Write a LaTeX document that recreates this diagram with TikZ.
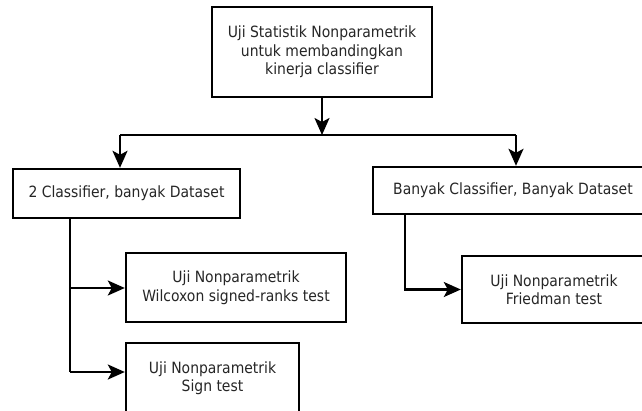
\documentclass[tikz,border=0pt]{standalone}
\usepackage{fontspec}
\setmainfont{DejaVu Sans Condensed}
\usetikzlibrary{arrows.meta}
\begin{document}
\begin{tikzpicture}[x=1pt,y=-1pt,
  box/.style={draw=black,line width=2.4pt,fill=white,inner sep=0pt,align=center,
    font=\fontsize{15.5}{18.5}\selectfont,text=black!85},
  conn/.style={line width=2.2pt,-{Stealth[length=17pt,width=15pt,inset=4pt]}},
  plain/.style={line width=2.2pt}]
\useasboundingbox (0,0) rectangle (642,410);
\clip (0,0) rectangle (642,410);
\fill[white] (0,0) rectangle (642,410);
\node[box,minimum width=220pt,minimum height=90pt] (top) at (322,52)
  {Uji Statistik Nonparametrik\\untuk membandingkan\\kinerja classifier};
\node[box,minimum width=227pt,minimum height=49pt] (left) at (126.5,193.5)
  {2 Classifier, banyak Dataset};
\node[box,minimum width=280pt,minimum height=47pt] (right) at (513,190.5)
  {Banyak Classifier, Banyak Dataset};
\node[box,minimum width=220pt,minimum height=69pt] (wil) at (236,287.5)
  {Uji Nonparametrik\\Wilcoxon signed-ranks test};
\node[box,minimum width=173pt,minimum height=70pt] (sign) at (212.5,378)
  {Uji Nonparametrik\\Sign test};
\node[box,minimum width=184pt,minimum height=67pt] (fried) at (554,289.5)
  {Uji Nonparametrik\\Friedman test};
\coordinate (mid) at (322,135);
\coordinate (hl) at (120,135);
\coordinate (hr) at (516,135);
\coordinate (lw) at (70,288);
\coordinate (ls) at (70,372);
\coordinate (rf) at (405,289.5);
\draw[conn] (top.south) -- (mid);
\draw[plain] (hl) -- (hr);
\draw[conn] (hl) -- (hl |- left.north);
\draw[conn] (hr) -- (hr |- right.north);
\draw[plain] (left.south -| lw) -- (ls);
\draw[conn] (lw) -- (wil.west |- lw);
\draw[conn] (ls) -- (sign.west |- ls);
\draw[conn] (right.south -| rf) |- (fried.west);
\end{tikzpicture}
\end{document}
